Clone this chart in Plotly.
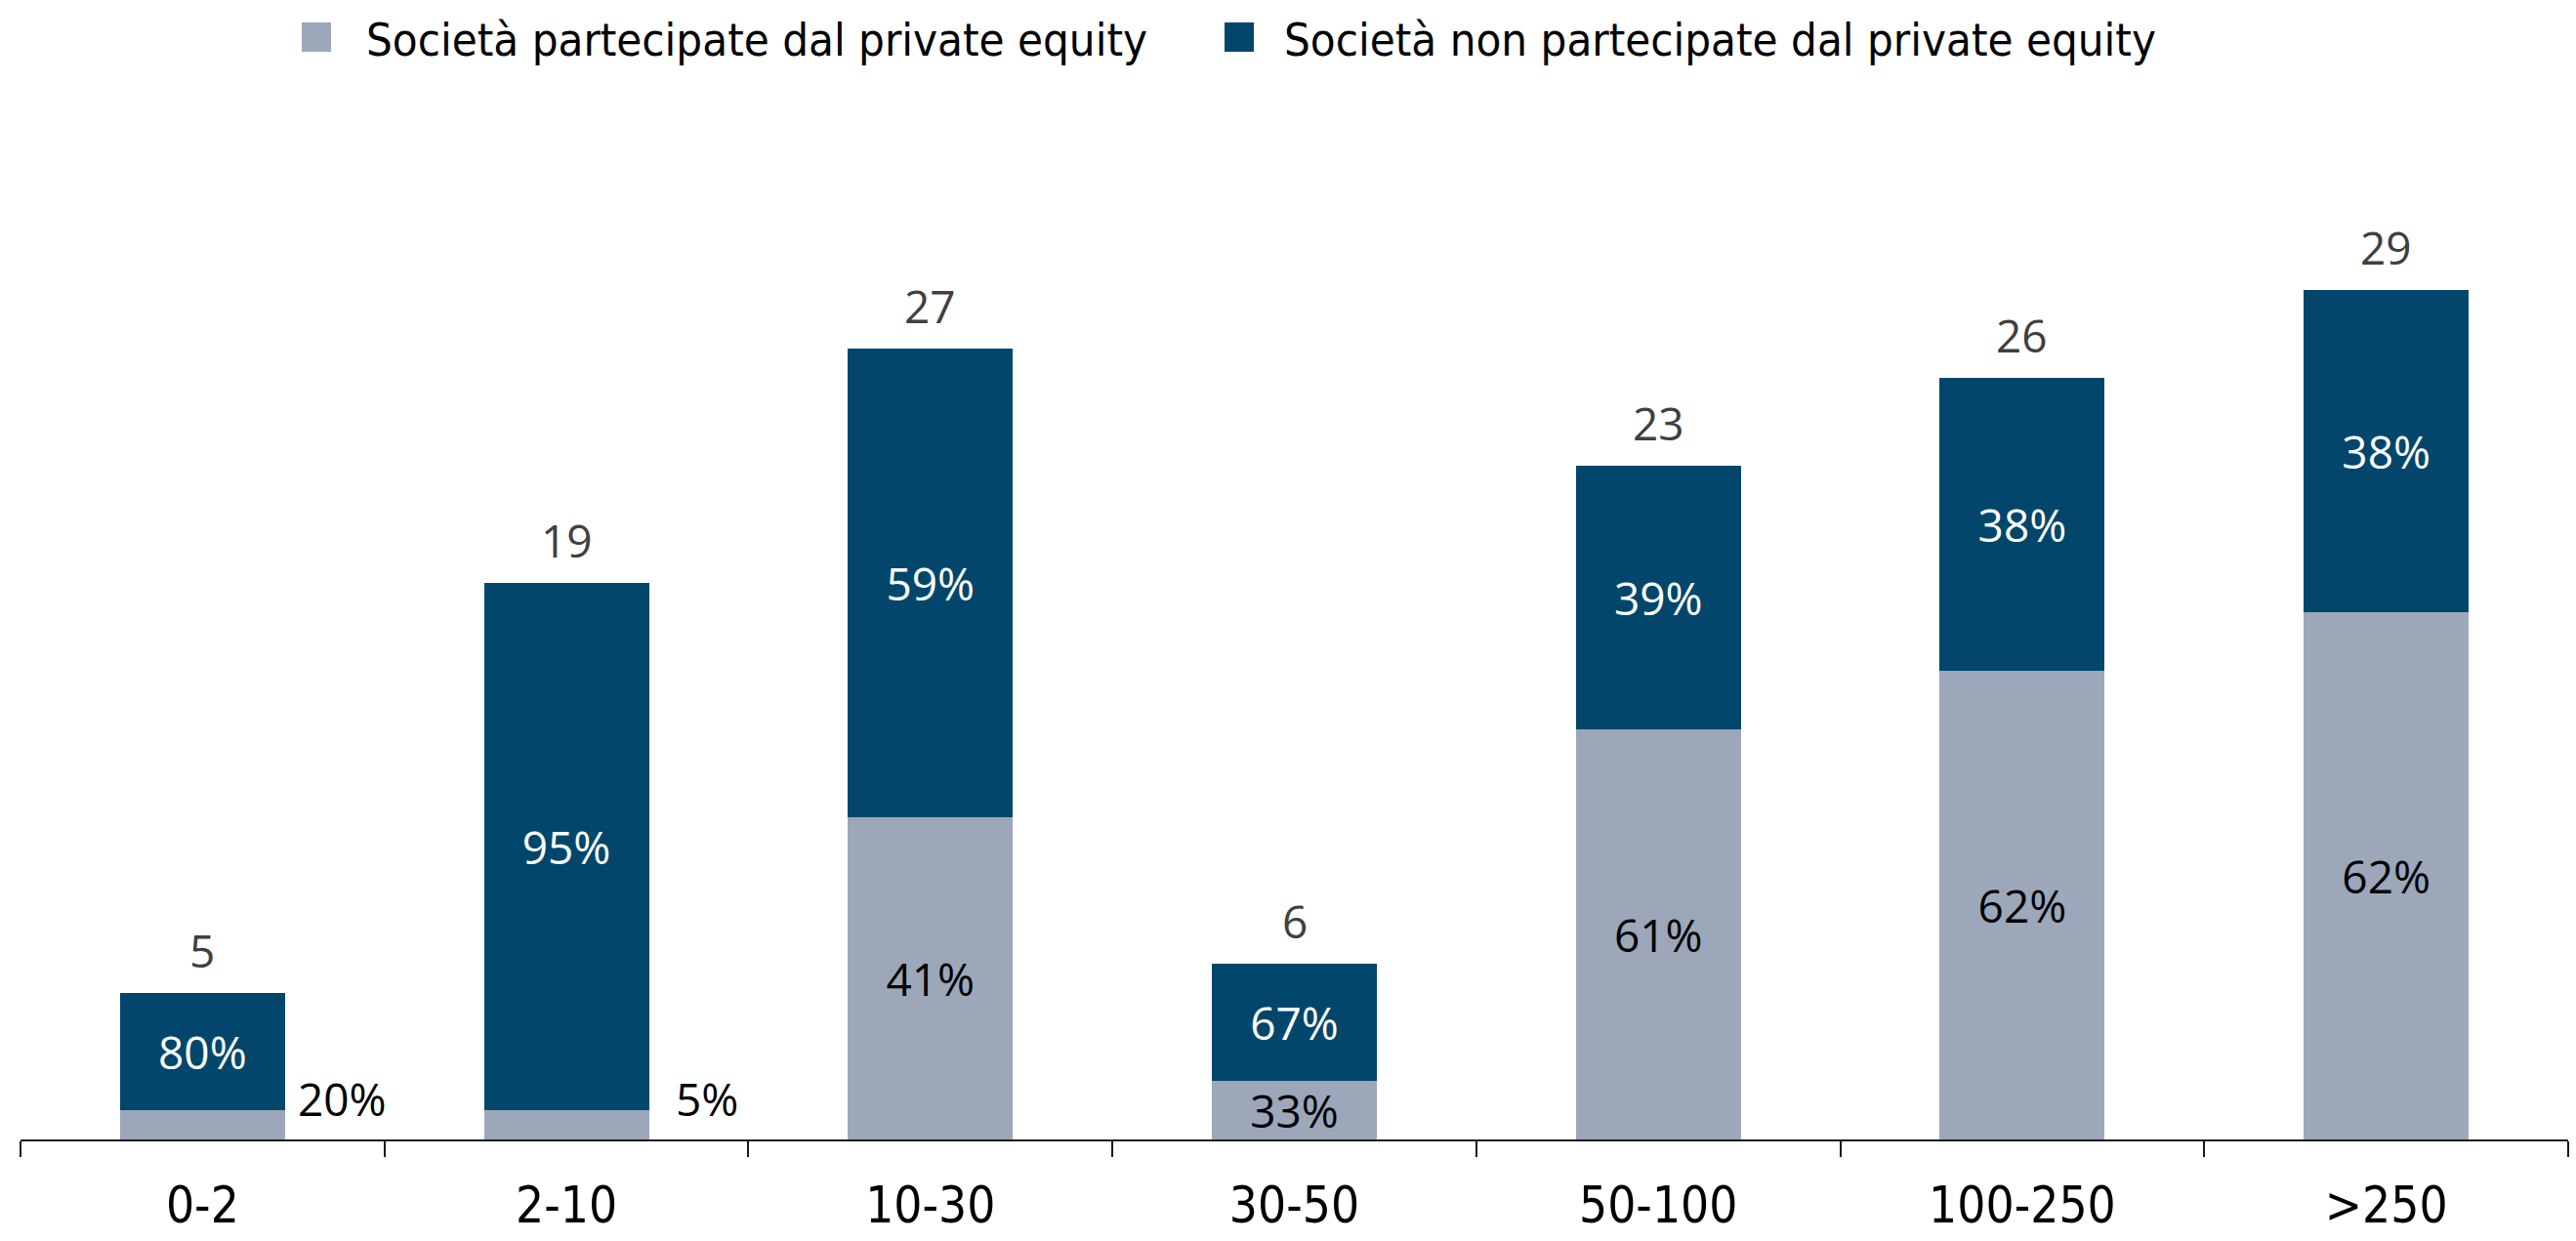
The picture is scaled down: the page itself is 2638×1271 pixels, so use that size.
import plotly.graph_objects as go

# Revenue bands (EUR m) and number of companies in each band
categories = ["0-2", "2-10", "10-30", "30-50", "50-100", "100-250", ">250"]
pe_backed = [1, 1, 11, 2, 14, 16, 18]        # Società partecipate dal private equity
non_pe_backed = [4, 18, 16, 4, 9, 10, 11]    # Società non partecipate dal private equity

series_names = [
    "Società partecipate dal private equity",
    "Società non partecipate dal private equity",
]

totals = [a + b for a, b in zip(pe_backed, non_pe_backed)]
pe_share = [round(100 * a / t) for a, t in zip(pe_backed, totals)]
non_pe_share = [round(100 * b / t) for b, t in zip(non_pe_backed, totals)]

LIGHT = "#9CA7BA"
DARK = "#02476B"
LABEL_FONT = "Open Sans, Noto Sans, sans-serif"
AXIS_FONT = "DejaVu Sans Condensed, DejaVu Sans, sans-serif"

W, H = 2638, 1271
ML, MR, MT, MB = 21, 8, 117, 104
PLOT_W = W - ML - MR
PLOT_H = H - MT - MB
Y_MAX = 35
BAR_FRAC = 0.4535

# segments too thin to hold their label get it beside the bar
MIN_INSIDE = 2
pe_text = [f"{p}%" if v >= MIN_INSIDE else "" for v, p in zip(pe_backed, pe_share)]

fig = go.Figure()
fig.add_trace(go.Bar(
    x=categories, y=pe_backed, name=series_names[0],
    marker=dict(color=LIGHT, line=dict(width=0)),
    text=pe_text, textposition="inside", insidetextanchor="middle",
    textangle=0, constraintext="none",
    insidetextfont=dict(family=LABEL_FONT, size=46, color="#000000"),
    showlegend=False, hoverinfo="skip",
))
fig.add_trace(go.Bar(
    x=categories, y=non_pe_backed, name=series_names[1],
    marker=dict(color=DARK, line=dict(width=0)),
    text=[f"{p}%" for p in non_pe_share], textposition="inside",
    insidetextanchor="middle", textangle=0, constraintext="none",
    insidetextfont=dict(family=LABEL_FONT, size=46, color="#FFFFFF"),
    showlegend=False, hoverinfo="skip",
))

annotations = []
# totals above each stack
for i, t in enumerate(totals):
    annotations.append(dict(
        x=i, y=t, xref="x", yref="y", text=str(t), showarrow=False,
        yanchor="bottom", yshift=11,
        font=dict(family=LABEL_FONT, size=46, color="#404040"),
    ))
# shares for thin segments, placed to the right of the bar
for i, (v, p) in enumerate(zip(pe_backed, pe_share)):
    if v < MIN_INSIDE:
        annotations.append(dict(
            x=i + BAR_FRAC / 2, y=v, xref="x", yref="y", text=f"{p}%",
            showarrow=False, xanchor="center", yanchor="middle",
            xshift=59, yshift=12,
            font=dict(family=LABEL_FONT, size=46, color="#000000"),
        ))


def px_x(px):
    return (px - ML) / PLOT_W


def px_y(py):
    return (H - MB - py) / PLOT_H


# legend drawn as swatches with labels across the top
shapes = []
legend_items = [(309, 373, LIGHT, series_names[0]), (1254, 1313, DARK, series_names[1])]
for sx, tx, col, label in legend_items:
    shapes.append(dict(
        type="rect", xref="paper", yref="paper",
        x0=px_x(sx), x1=px_x(sx + 30), y0=px_y(53), y1=px_y(23),
        fillcolor=col, line=dict(width=0),
    ))
    annotations.append(dict(
        x=px_x(tx), y=px_y(40), xref="paper", yref="paper", text=label,
        showarrow=False, xanchor="left", yanchor="middle",
        font=dict(family=AXIS_FONT, size=47, color="#000000"),
    ))

fig.update_layout(
    width=W, height=H,
    margin=dict(l=ML, r=MR, t=MT, b=MB, pad=0, autoexpand=False),
    barmode="stack", bargap=1 - BAR_FRAC,
    paper_bgcolor="#FFFFFF", plot_bgcolor="#FFFFFF",
    showlegend=False,
    annotations=annotations, shapes=shapes,
    xaxis=dict(
        type="category", range=[-0.5, len(categories) - 0.5],
        automargin=False,
        showline=True, linecolor="#1A1A1A", linewidth=2,
        ticks="outside", tickson="boundaries", ticklen=16, tickwidth=2,
        tickcolor="#1A1A1A", showgrid=False, zeroline=False,
        ticklabelstandoff=22,
        tickfont=dict(family=AXIS_FONT, size=51, color="#000000"),
    ),
    yaxis=dict(visible=False, range=[0, Y_MAX], showgrid=False, zeroline=False),
)

fig.write_html("out.html")
